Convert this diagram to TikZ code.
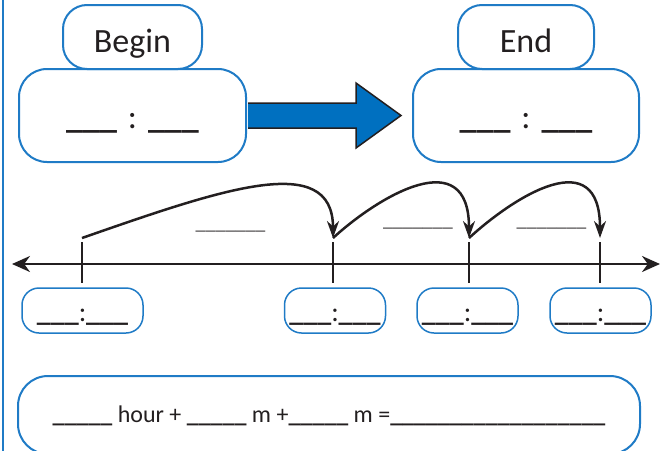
\documentclass[tikz,border=0pt]{standalone}
\usepackage{fontspec}
\setmainfont{Carlito}
\usetikzlibrary{arrows.meta}
\definecolor{boxblue}{HTML}{1F7BC6}
\definecolor{arrowblue}{HTML}{0070C0}
\definecolor{inkc}{HTML}{231F20}
\tikzset{
  rbox/.style={draw=boxblue, line width=2pt, rounded corners=#1, inner sep=0pt, text=inkc},
  bigtxt/.style={font=\fontsize{34}{40}\selectfont},
  smalltxt/.style={font=\fontsize{28}{32}\selectfont},
  eqtxt/.style={font=\fontsize{24}{28}\selectfont},
  arctxt/.style={font=\fontsize{20}{24}\selectfont, text=inkc!85, anchor=base, inner sep=0pt},
  sbox/.style={rbox=17pt, line width=1.5pt, minimum width=101pt, minimum height=45pt, smalltxt, text height=21pt, text depth=0pt},
  tickline/.style={line width=2.5pt, inkc},
  jump/.style={line width=2.5pt, inkc, -{Stealth[length=17pt,width=12pt]}},
}
\begin{document}
\begin{tikzpicture}[x=1pt,y=-1pt]
\useasboundingbox (0,0) rectangle (664,450);
\clip (0,0) rectangle (664,450);
% left margin line
\draw[boxblue, line width=2pt] (3,-2) -- (3,452);
% top boxes
\node[rbox=24pt, minimum width=139pt, minimum height=64pt, bigtxt, text height=30pt, text depth=0pt] (beginLbl) at (132.5,37) {Begin};
\node[rbox=28pt, minimum width=227pt, minimum height=93pt, bigtxt, text height=25pt, text depth=0pt] (beginTime) at (132.5,115.5) {{\bfseries\_\_\_}\hspace{11pt}:\hspace{11pt}{\bfseries\_\_\_}};
\node[rbox=24pt, minimum width=136pt, minimum height=64pt, bigtxt, text height=30pt, text depth=0pt] (endLbl) at (526,37) {End};
\node[rbox=28pt, minimum width=226pt, minimum height=93pt, bigtxt, text height=25pt, text depth=0pt] (endTime) at (526,115.5) {{\bfseries\_\_\_}\hspace{11pt}:\hspace{11pt}{\bfseries\_\_\_}};
% big block arrow from beginTime to endTime
\draw[fill=arrowblue, draw=inkc, line width=1.5pt, line join=miter]
  ([shift={(1,-12.5)}]beginTime.east) -- (356,103) -- (356,83)
  -- ([xshift=-11pt]endTime.west) -- (356,148) -- (356,128)
  -- ([shift={(1,12.5)}]beginTime.east);
% number line
\coordinate (nlL) at (12,264);
\coordinate (nlR) at (660,264);
\draw[line width=2.5pt, inkc, {Stealth[length=18pt,width=16pt]}-{Stealth[length=18pt,width=16pt]}] (nlL) -- (nlR);
% ticks
\foreach \i/\x in {1/82,2/333,3/469,4/600}{
  \coordinate (top\i) at (\x,242);
  \coordinate (bot\i) at (\x,283);
  \coordinate (a\i) at (\x,238);
  \draw[tickline] (top\i) -- (bot\i);
}
% jumps
\draw[jump] (a1) .. controls (220,190) and (333,150) .. (a2);
\draw[jump] (a2) .. controls (380,195) and (469,143) .. (a3);
\draw[jump] (a3) .. controls (516,195) and (600,143) .. (a4);
\node[arctxt] (lbl1) at (230.5,229) {\_\_\_\_\_\_\_};
\node[arctxt] (lbl2) at (418,226) {\_\_\_\_\_\_\_};
\node[arctxt] (lbl3) at (551.5,226) {\_\_\_\_\_\_\_};
% small time boxes
\node[sbox, minimum width=121pt] (s1) at (82.5,310.5) {{\bfseries\_\_\_}:{\bfseries\_\_\_}};
\node[sbox] (s2) at (335,310.5) {{\bfseries\_\_\_}:{\bfseries\_\_\_}};
\node[sbox] (s3) at (467.5,310.5) {{\bfseries\_\_\_}:{\bfseries\_\_\_}};
\node[sbox] (s4) at (600.5,310.5) {{\bfseries\_\_\_}:{\bfseries\_\_\_}};
% equation box
\node[rbox=30pt, minimum width=622pt, minimum height=78pt, eqtxt, text height=14pt, text depth=0pt] (eqn) at (329,415)
  {{\bfseries\_\_\_\_\_} hour + {\bfseries\_\_\_\_\_} m +{\bfseries\_\_\_\_\_} m ={\bfseries\_\_\_\_\_\_\_\_\_\_\_\_\_\_\_\_\_\_}};
\end{tikzpicture}
\end{document}
